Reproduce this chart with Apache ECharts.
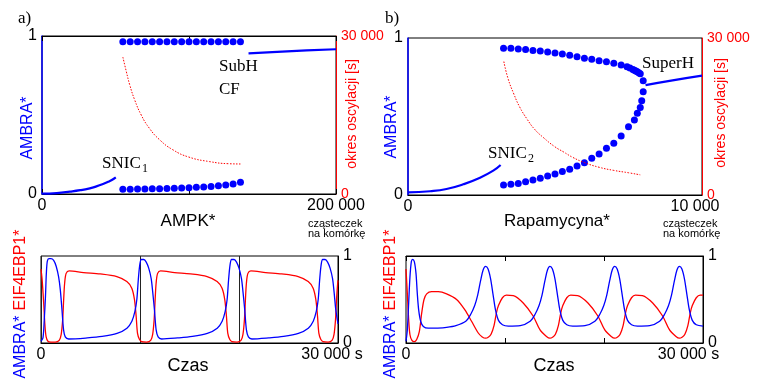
<!DOCTYPE html>
<html>
<head>
<meta charset="utf-8">
<script src="https://cdn.jsdelivr.net/npm/echarts@6/dist/echarts.min.js"></script>
<style>html,body{margin:0;padding:0;background:#fff;}#c{width:759px;height:380px;}</style>
</head>
<body>
<div id="c"></div>
<script>
// ---------------- DATA ----------------
// Panel a) top : AMPK* bifurcation diagram
const tlStable1 = [[0,0.002],[10000,0.006],[19000,0.015],[26000,0.024],[32500,0.036],[37000,0.048],[41500,0.063],[45000,0.077],[47500,0.089],[50200,0.106]];
const tlStable2 = [[140500,0.890],[160000,0.900],[180000,0.909],[200000,0.916]];
const tlDotX = [55000,60000,65000,70000,75000,80000,85000,90000,95000,100000,105000,110000,115000,120000,125000,130000,135000];
const tlDotMax = [0.964,0.964,0.964,0.964,0.964,0.964,0.964,0.964,0.964,0.964,0.964,0.964,0.964,0.964,0.964,0.964,0.964];
const tlDotMin = [0.030,0.030,0.031,0.032,0.033,0.034,0.035,0.037,0.038,0.040,0.042,0.045,0.048,0.052,0.057,0.063,0.074];
const tlPeriod = [[55000,26000],[57400,23200],[59700,20700],[63000,17900],[67500,15000],[73000,12500],[80000,10300],[89000,8400],[100000,7000],[114000,6150],[127000,5750],[135000,5700]];
const tlXTicks = [0, 200000], tlXTickLabels = ['0', '200 000'];

// Panel b) top : Rapamycyna* bifurcation diagram
const trStable1 = [[0,0.017],[750,0.024],[1310,0.038],[1880,0.068],[2450,0.110],[2900,0.155],[3150,0.191]];
const trStable2 = [[8080,0.700],[9000,0.730],[10000,0.760]];
const trDotMax = [[3250,0.934],[3500,0.934],[3750,0.930],[4000,0.926],[4250,0.921],[4500,0.917],[4750,0.911],[5000,0.904],[5250,0.898],[5500,0.890],[5750,0.881],[6000,0.871],[6250,0.864],[6500,0.855],[6750,0.848],[7000,0.839],[7250,0.828],[7450,0.817],[7550,0.809],[7650,0.800],[7700,0.795],[7750,0.790],[7800,0.785],[7850,0.779],[7900,0.772],[8000,0.728]];
const trDotMin = [[3250,0.064],[3500,0.068],[3750,0.074],[4000,0.085],[4250,0.096],[4500,0.106],[4750,0.121],[5000,0.134],[5250,0.149],[5500,0.164],[5750,0.185],[6000,0.206],[6250,0.234],[6500,0.261],[6750,0.297],[7000,0.329],[7250,0.376],[7500,0.435],[7700,0.478],[7800,0.520],[7900,0.558],[7950,0.601],[8000,0.658]];
const trPeriod = [[3260,25500],[3400,22300],[3600,19300],[3800,16800],[4050,14500],[4300,12600],[4600,11000],[5000,9200],[5300,8200],[5600,7200],[6000,6200],[6500,5300],[7000,4700],[7500,4250],[7900,3850]];
const trXTicks = [0, 10000], trXTickLabels = ['0', '10 000'];

const topYTicks = [0, 1], topYTickLabels = ['0', '1'];
const periodTicks = [0, 30000], periodTickLabels = ['0', '30 000'];

// Panel a) bottom : time courses
const blAmbra = [[0,0.02],[200,0.06],[330,0.27],[450,0.53],[540,0.80],[640,0.94],[800,0.97],[1000,0.97],[1280,0.95],[1540,0.88],[1780,0.76],[1950,0.61],[2120,0.38],[2280,0.15],[2450,0.07],[2800,0.046],
 [4680,0.058],[6180,0.075],[7680,0.11],[8680,0.17],[9180,0.25],[9480,0.36],[9680,0.50],[9830,0.73],[9980,0.90],[10130,0.96],[10380,0.96],[10630,0.93],[10880,0.86],[11130,0.74],[11280,0.59],[11460,0.38],[11630,0.15],[11830,0.07],[12180,0.046],
 [13800,0.058],[15300,0.075],[16800,0.11],[17800,0.17],[18300,0.25],[18600,0.36],[18800,0.50],[18950,0.73],[19100,0.90],[19250,0.96],[19500,0.96],[19750,0.93],[20000,0.86],[20250,0.74],[20400,0.59],[20580,0.38],[20750,0.15],[20950,0.07],[21300,0.046],
 [23000,0.058],[24500,0.075],[26000,0.11],[27000,0.17],[27500,0.25],[27800,0.36],[28000,0.50],[28150,0.73],[28300,0.90],[28450,0.96],[28700,0.96],[28950,0.93],[29200,0.86],[29450,0.74],[29600,0.59],[29780,0.38],[30000,0.22]];
const blEif = [[0,0.85],[120,0.72],[270,0.46],[400,0.2],[520,0.07],[700,0.02],[1000,0.01],[1440,0.01],[1840,0.03],[2040,0.10],[2190,0.27],[2290,0.50],[2390,0.69],[2540,0.80],[2840,0.83],
 [4300,0.81],[5980,0.794],[7660,0.763],[8670,0.706],[9170,0.63],[9440,0.50],[9610,0.31],[9750,0.11],[9950,0.04],[10180,0.015],[10680,0.01],[11080,0.03],[11280,0.10],[11430,0.27],[11530,0.50],[11630,0.69],[11780,0.80],[12080,0.83],
 [13500,0.81],[15100,0.794],[16780,0.763],[17790,0.706],[18290,0.63],[18560,0.50],[18730,0.31],[18870,0.11],[19070,0.04],[19300,0.015],[19800,0.01],[20200,0.03],[20400,0.10],[20550,0.27],[20650,0.50],[20750,0.69],[20900,0.80],[21200,0.83],
 [22700,0.81],[24300,0.794],[25980,0.763],[26990,0.706],[27490,0.63],[27760,0.50],[27930,0.31],[28070,0.11],[28270,0.04],[28500,0.015],[29000,0.01],[29400,0.03],[29600,0.10],[29750,0.27],[29850,0.50],[29950,0.66],[30000,0.72]];

// Panel b) bottom : time courses
const brAmbra = [[0,0.02],[135,0.15],[270,0.46],[400,0.76],[540,0.935],[670,0.962],[840,0.935],[1010,0.80],[1140,0.57],[1280,0.38],[1480,0.25],[1750,0.19],[2250,0.17],[3200,0.172],[4100,0.18],
 [5040,0.20],[6040,0.25],[6540,0.33],[6940,0.43],[7240,0.55],[7540,0.72],[7790,0.84],[8040,0.88],[8290,0.85],[8540,0.74],[8790,0.56],[9040,0.38],[9340,0.26],[9740,0.21],[10340,0.195],
 [11540,0.20],[12540,0.25],[13040,0.33],[13440,0.43],[13740,0.55],[14040,0.72],[14290,0.84],[14540,0.88],[14790,0.85],[15040,0.74],[15290,0.56],[15540,0.38],[15840,0.26],[16240,0.21],[16840,0.195],
 [18080,0.20],[19080,0.25],[19580,0.33],[19980,0.43],[20280,0.55],[20580,0.72],[20830,0.84],[21080,0.88],[21330,0.85],[21580,0.74],[21830,0.56],[22080,0.38],[22380,0.26],[22780,0.21],[23380,0.195],
 [24620,0.20],[25620,0.25],[26120,0.33],[26520,0.43],[26820,0.55],[27120,0.72],[27370,0.84],[27620,0.88],[27870,0.85],[28120,0.74],[28370,0.56],[28620,0.38],[28920,0.26],[29320,0.21],[30000,0.195]];
const brEif = [[0,0.85],[135,0.57],[270,0.27],[400,0.095],[600,0.03],[840,0.015],[1080,0.04],[1345,0.13],[1580,0.34],[1820,0.50],[2090,0.565],[2590,0.59],[3260,0.59],[4100,0.565],[5110,0.50],[5950,0.38],[6620,0.25],[7300,0.115],[7700,0.07],[8040,0.055],
 [8340,0.07],[8590,0.10],[8890,0.20],[9140,0.35],[9340,0.43],[9740,0.52],[10140,0.55],[10840,0.545],[11840,0.46],[12840,0.31],[13540,0.15],[14190,0.075],[14540,0.055],
 [14840,0.07],[15090,0.10],[15390,0.20],[15640,0.35],[15840,0.43],[16240,0.52],[16640,0.55],[17340,0.545],[18380,0.46],[19380,0.31],[20080,0.15],[20730,0.075],[21080,0.055],
 [21380,0.07],[21630,0.10],[21930,0.20],[22180,0.35],[22380,0.43],[22780,0.52],[23180,0.55],[23880,0.545],[24920,0.46],[25920,0.31],[26620,0.15],[27270,0.075],[27620,0.055],
 [27920,0.07],[28170,0.10],[28470,0.20],[28720,0.35],[28920,0.43],[29320,0.52],[29720,0.55],[30000,0.55]];
const timeTicks = [0, 30000], timeTickLabels = ['0', '30 000 s'];

// ---------------- CHART ----------------
const SANS = "Liberation Sans, Arial, sans-serif";
const SERIF = "Liberation Serif, DejaVu Serif, serif";
const BLUE = '#0000ff', RED = '#ff0000';

function fmt(ticks, labels, shiftLast) {
  return function (v) {
    const i = ticks.indexOf(v);
    if (i < 0) return '';
    if (shiftLast && i === ticks.length - 1) return '{m|' + labels[i] + '}';
    return labels[i];
  };
}
function xAx(grid, min, max, interval, ticks, labels, opts) {
  opts = opts || {};
  return {
    type: 'value', gridIndex: grid, min: min, max: max, interval: interval,
    position: opts.top ? 'top' : 'bottom',
    axisLine: { show: true, onZero: false, lineStyle: { color: '#000', width: 1 } },
    axisTick: { show: !!opts.ticks, inside: true, length: 5, lineStyle: { color: '#000' } },
    axisLabel: opts.top ? { show: false } : {
      formatter: fmt(ticks, labels, !!opts.shift), fontSize: 16, fontFamily: SANS, color: '#000', margin: 4,
      rich: { m: { fontSize: 16, fontFamily: SANS, color: '#000', padding: [0, opts.shift || 0, 0, 0] } }
    },
    splitLine: { show: !!opts.split, lineStyle: { color: '#222', width: 1 } }
  };
}
function yAx(grid, pos, max, interval, ticks, labels, color, size) {
  return {
    type: 'value', gridIndex: grid, position: pos, min: 0, max: max, interval: interval,
    axisLine: { show: true, onZero: false, lineStyle: { color: color, width: color === BLUE ? 1.5 : 1 } },
    axisTick: { show: false },
    axisLabel: { formatter: fmt(ticks, labels), fontSize: size, fontFamily: SANS, color: color === BLUE ? '#000' : color, margin: 5 },
    splitLine: { show: false }
  };
}
function T(x, y, text, size, color, align, family, rot) {
  return { type: 'text', x: x, y: y, rotation: rot || 0, silent: true, z: 100,
    style: { text: text, fill: color, fontSize: size, fontFamily: family, font: size + 'px ' + family,
      textAlign: align, align: align, textVerticalAlign: 'middle', verticalAlign: 'middle' } };
}
const R90 = Math.PI / 2;

const option = {
  animation: false,
  backgroundColor: '#fff',
  grid: [
    { left: 42, top: 36, width: 294, height: 158, show: true, borderColor: '#000', borderWidth: 1 },
    { left: 408, top: 38, width: 294, height: 157, show: true, borderColor: '#000', borderWidth: 1 },
    { left: 41, top: 256, width: 297, height: 87, show: true, borderColor: '#000', borderWidth: 1 },
    { left: 406, top: 256, width: 297, height: 87, show: true, borderColor: '#000', borderWidth: 1 }
  ],
  xAxis: [
    xAx(0, 0, 200000, 100000, tlXTicks, tlXTickLabels, { ticks: true }),
    xAx(0, 0, 200000, 100000, tlXTicks, tlXTickLabels, { ticks: true, top: true }),
    xAx(1, 0, 10000, 10000, trXTicks, trXTickLabels, { shift: 14 }),
    xAx(2, 0, 30000, 10000, timeTicks, timeTickLabels, { split: true, shift: 12 }),
    xAx(3, 0, 30000, 10000, timeTicks, timeTickLabels, { ticks: true, shift: 29 }),
    xAx(3, 0, 30000, 10000, timeTicks, timeTickLabels, { ticks: true, top: true })
  ],
  yAxis: [
    yAx(0, 'left', 1, 1, topYTicks, topYTickLabels, BLUE, 16),
    yAx(0, 'right', 30000, 30000, periodTicks, periodTickLabels, RED, 14),
    yAx(1, 'left', 1, 1, topYTicks, topYTickLabels, BLUE, 16),
    yAx(1, 'right', 30000, 30000, periodTicks, periodTickLabels, RED, 14),
    yAx(2, 'right', 1, 1, topYTicks, topYTickLabels, '#000', 16),
    yAx(3, 'right', 1, 1, topYTicks, topYTickLabels, '#000', 16)
  ],
  series: [
    // a) top
    { type: 'line', xAxisIndex: 0, yAxisIndex: 1, data: tlPeriod, smooth: true, symbol: 'none', lineStyle: { color: RED, width: 1, type: [1.5, 1.5] } },
    { type: 'line', xAxisIndex: 0, yAxisIndex: 0, data: tlStable1, smooth: true, symbol: 'none', lineStyle: { color: BLUE, width: 2.2 } },
    { type: 'line', xAxisIndex: 0, yAxisIndex: 0, data: tlStable2, smooth: true, symbol: 'none', lineStyle: { color: BLUE, width: 2.2 } },
    { type: 'scatter', xAxisIndex: 0, yAxisIndex: 0, data: tlDotX.map((x, i) => [x, tlDotMax[i]]), symbolSize: 7, itemStyle: { color: BLUE, opacity: 1 } },
    { type: 'scatter', xAxisIndex: 0, yAxisIndex: 0, data: tlDotX.map((x, i) => [x, tlDotMin[i]]), symbolSize: 7, itemStyle: { color: BLUE, opacity: 1 } },
    // b) top
    { type: 'line', xAxisIndex: 2, yAxisIndex: 3, data: trPeriod, smooth: true, symbol: 'none', lineStyle: { color: RED, width: 1, type: [1.5, 1.5] } },
    { type: 'line', xAxisIndex: 2, yAxisIndex: 2, data: trStable1, smooth: true, symbol: 'none', lineStyle: { color: BLUE, width: 2.2 } },
    { type: 'line', xAxisIndex: 2, yAxisIndex: 2, data: trStable2, smooth: true, symbol: 'none', lineStyle: { color: BLUE, width: 2.2 } },
    { type: 'scatter', xAxisIndex: 2, yAxisIndex: 2, data: trDotMax, symbolSize: 7, itemStyle: { color: BLUE, opacity: 1 } },
    { type: 'scatter', xAxisIndex: 2, yAxisIndex: 2, data: trDotMin, symbolSize: 7, itemStyle: { color: BLUE, opacity: 1 } },
    // a) bottom
    { type: 'line', xAxisIndex: 3, yAxisIndex: 4, data: blEif, smooth: 0.3, symbol: 'none', lineStyle: { color: RED, width: 1.3 } },
    { type: 'line', xAxisIndex: 3, yAxisIndex: 4, data: blAmbra, smooth: 0.3, symbol: 'none', lineStyle: { color: BLUE, width: 1.3 } },
    // b) bottom
    { type: 'line', xAxisIndex: 4, yAxisIndex: 5, data: brEif, smooth: 0.3, symbol: 'none', lineStyle: { color: RED, width: 1.3 } },
    { type: 'line', xAxisIndex: 4, yAxisIndex: 5, data: brAmbra, smooth: 0.3, symbol: 'none', lineStyle: { color: BLUE, width: 1.3 } }
  ],
  graphic: [
    T(18, 19, 'a)', 17, '#000', 'left', SERIF),
    T(385, 19, 'b)', 17, '#000', 'left', SERIF),
    // a) top texts
    T(28, 128, 'AMBRA*', 16, BLUE, 'center', SANS, R90),
    T(352, 114, 'okres oscylacji [s]', 14, RED, 'center', SANS, R90),
    T(102, 164, 'SNIC', 17, '#000', 'left', SERIF),
    T(142, 169, '1', 12, '#000', 'left', SERIF),
    T(219, 67, 'SubH', 17, '#000', 'left', SERIF),
    T(219, 90, 'CF', 17, '#000', 'left', SERIF),
    T(188, 221, 'AMPK*', 17, '#000', 'center', SANS),
    T(308, 224, 'cząsteczek', 11, '#000', 'left', SANS),
    T(308, 234, 'na komórkę', 11, '#000', 'left', SANS),
    // b) top texts
    T(392, 127, 'AMBRA*', 16, BLUE, 'center', SANS, R90),
    T(721, 113, 'okres oscylacji [s]', 14, RED, 'center', SANS, R90),
    T(488, 154, 'SNIC', 17, '#000', 'left', SERIF),
    T(528, 159, '2', 12, '#000', 'left', SERIF),
    T(642, 64, 'SuperH', 17, '#000', 'left', SERIF),
    T(557, 221, 'Rapamycyna*', 17, '#000', 'center', SANS),
    T(663, 224, 'cząsteczek', 11, '#000', 'left', SANS),
    T(663, 234, 'na komórkę', 11, '#000', 'left', SANS),
    // bottom texts
    T(21, 270, 'EIF4EBP1*', 16, RED, 'center', SANS, R90),
    T(21, 347, 'AMBRA*', 16, BLUE, 'center', SANS, R90),
    T(391, 270, 'EIF4EBP1*', 16, RED, 'center', SANS, R90),
    T(391, 347, 'AMBRA*', 16, BLUE, 'center', SANS, R90),
    T(188, 366, 'Czas', 18, '#000', 'center', SANS),
    T(554, 366, 'Czas', 18, '#000', 'center', SANS)
  ]
};
const chart = echarts.init(document.getElementById('c'), null, { renderer: 'canvas', width: 759, height: 380 });
chart.setOption(option);
</script>
</body>
</html>
